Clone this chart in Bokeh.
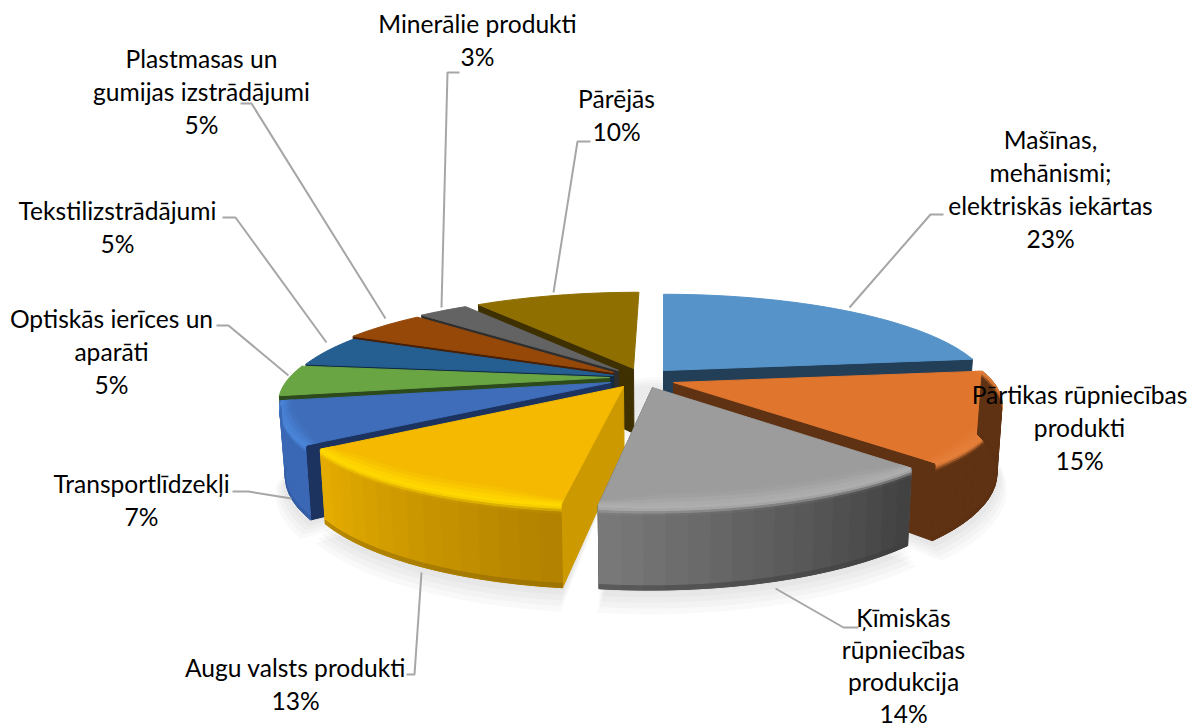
import math
from bokeh.plotting import figure
from bokeh.models import Range1d
from bokeh.core.properties import value
from bokeh.embed import file_html
from bokeh.resources import INLINE

categories = ["Mašīnas,\nmehānismi;\nelektriskās iekārtas", "Pārtikas rūpniecības\nprodukti",
              "Ķīmiskās\nrūpniecības\nprodukcija", "Augu valsts produkti", "Transportlīdzekļi",
              "Optiskās ierīces un\naparāti", "Tekstilizstrādājumi", "Plastmasas un\ngumijas izstrādājumi",
              "Minerālie produkti", "Pārējās"]
shares = [23, 15, 14, 13, 7, 5, 5, 5, 3, 10]

# style / layout
top_col = ["#5593C9", "#E0752D", "#9C9C9C", "#F4B900", "#3F6DBA", "#6AA544", "#255E91", "#964809", "#636363", "#8F6F00"]
inner_col = ["#233F58", "#5F3213", "#404040", "#CC9A00", "#1C3360", "#2D4A1D", "#112C44", "#461F05", "#2E2E2E", "#3E3000"]
# outer wall colours at slice start / end, highlight, bottom colour
wall = {1: ("#5F3213", "#5F3213", "#E57F3A", "#5A2F12"),
        2: ("#404040", "#7A7A7A", "#AEAEAE", "#3C3C3C"),
        3: ("#B08000", "#E6AE00", "#FFD800", "#8A6500"),
        4: ("#3A68B5", "#3A68B5", "#4A85D8", "#2F5596")}
apex = [(663, 370), (673, 382), (652, 387), (623, 386), (610, 382),
        (609, 377), (613, 375), (613, 372), (618, 370), (633, 368)]
XC, K, RX, RY, DEPTH = 663, 0.22, 320, 93, 65
PAINT = [9, 8, 7, 6, 5, 4, 3, 0, 1, 2]

leaders = [[(849, 307), (930, 214), (943, 214)], None,
           [(775, 588), (843, 627), (858, 627)], [(421, 572), (414, 674), (406, 674)],
           [(291, 498), (248, 491), (232, 491)], [(288, 375), (228, 325), (216, 325)],
           [(326, 342), (235, 217), (222, 217)], [(385, 318), (251, 103), (240, 103)],
           [(441, 307), (447, 72), (459, 72)], [(553, 292), (577, 141), (590, 141)]]
label_pos = [(1050, 139), (1079, 394), (903, 617), (295, 667), (141, 483),
             (111, 318), (117, 210), (201, 58), (477, 23), (616, 98)]
line_h = [33, 33, 32, 33, 33, 33, 33, 33, 33, 33]

W, H = 1191, 728
p = figure(width=W, height=H, x_range=Range1d(0, W), y_range=Range1d(H, 0),
           output_backend="svg", toolbar_location=None, min_border=0)
p.axis.visible = False
p.grid.visible = False
p.outline_line_color = None


def rgb(c):
    return [int(c[i:i + 2], 16) for i in (1, 3, 5)]


def mix(a, b, t):
    a, b = rgb(a), rgb(b)
    return "#%02X%02X%02X" % tuple(round(x + (y - x) * t) for x, y in zip(a, b))


def smooth(t):
    return t * t * (3 - 2 * t)


def P(i, theta, r=1.0, z=0.0):
    th = math.radians(theta)
    X, Y = math.sin(th) * r, -math.cos(th) * r
    s = 1 / (1 - K * Y)
    ax, ay = apex[i]
    x = XC + (ax - XC + RX * X) * s
    x = XC + (x - XC) * (1 - 0.015 * z)
    return x, ay + RY * Y * s + z * DEPTH * s


cum = [0]
for v in shares:
    cum.append(cum[-1] + v)
t0 = [c * 3.6 for c in cum[:-1]]
t1 = [c * 3.6 for c in cum[1:]]


def arc(i, r=1.0, z=0.0, step=1.5):
    a, b = t0[i], t1[i]
    n = max(2, int((b - a) / step) + 1)
    return [P(i, a + (b - a) * k / n, r, z) for k in range(n + 1)]


def poly(pts, col, alpha):
    p.patch([q[0] for q in pts], [q[1] for q in pts], fill_color=col, fill_alpha=alpha, line_color=None)


# soft shadow
for n in range(5):
    for i in (1, 2, 3, 4):
        poly([(apex[i][0], apex[i][1] + DEPTH)] + arc(i, 1.0 + n * 0.008, 1.02 + n * 0.05, 3), "#000000", 0.025)
for n in range(4):
    r = 0.22 + n * 0.03
    poly([P(0, a, r, 0.55) for a in range(0, 360, 10)], "#000000", 0.02)

for i in PAINT:
    xs, ys, cols = [], [], []

    def add(pts, col):
        xs.append([q[0] for q in pts])
        ys.append([q[1] for q in pts])
        cols.append(col)

    # radial wall that faces the viewer
    mid = (t0[i] + t1[i]) / 2
    edge = t0[i] if mid > 180 else t1[i]
    add([P(i, edge, 0, 0), P(i, edge, 1, 0), P(i, edge, 1, 1), P(i, edge, 0, 1)], inner_col[i])
    # outer wall with rim bevel
    if i in wall:
        c0, c1, hi, dark = wall[i]
        # base under the strips, so that no seam shows the page through
        add(arc(i, 1, 0) + arc(i, 1, 1)[::-1], mix(c0, c1, 0.5))
    # top surface
    add([apex[i]] + arc(i), top_col[i])
    if i in wall:
        n = max(4, int((t1[i] - t0[i]) / 3))
        steps = 8
        stations = []
        for a in range(steps + 1):
            t = a / steps
            stations.append((min(1.0, 0.96 + 0.04 * t / 0.55), -0.12 + 0.24 * t, t))
        stations += [(1.0, 0.95, 1.0), (1.0, 1.0, 2.0)]


        def Q(th, st):
            # the raised part of the rim fades out at both radial edges
            d = min(th - t0[i], t1[i] - th)
            taper = min(1.0, d / 10.0)
            r, z, _ = st
            if z < 0:
                z *= taper
            return P(i, th, r, z)


        def shade(t, u):
            w = mix(c0, c1, u)
            if t <= 0.6:
                return mix(top_col[i], hi, smooth(t / 0.6))
            if t <= 1.0:
                return mix(hi, w, smooth((t - 0.6) / 0.4))
            return mix(w, dark, t - 1.0)


        for a in range(len(stations) - 1):
            s0, s1 = stations[a], stations[a + 1]
            for k in range(n):
                th0 = t0[i] + (t1[i] - t0[i]) * k / n
                th1 = t0[i] + (t1[i] - t0[i]) * (k + 1) / n
                u = (k + 0.5) / n
                add([Q(th0, s0), Q(th1, s0), Q(th1, s1), Q(th0, s1)], shade((s0[2] + s1[2]) / 2, u))
    p.patches(xs, ys, fill_color=cols, line_color=cols, line_width=1.0)

# leader lines
for l in leaders:
    if l:
        p.line([q[0] for q in l], [q[1] for q in l], line_color="#A6A6A6", line_width=2)

# labels
tx, ty, tt = [], [], []
for k, (c, v) in enumerate(zip(categories, shares)):
    lines = c.split("\n") + [f"{v}%"]
    for j, s in enumerate(lines):
        tx.append(label_pos[k][0])
        ty.append(label_pos[k][1] + j * line_h[k])
        tt.append(s)
p.text(tx, ty, text=tt, text_font=value("Lato"), text_font_size="24.6px", text_color="#000000",
       text_align="center", text_baseline="middle")

open("out.html", "w").write(file_html(p, INLINE))
